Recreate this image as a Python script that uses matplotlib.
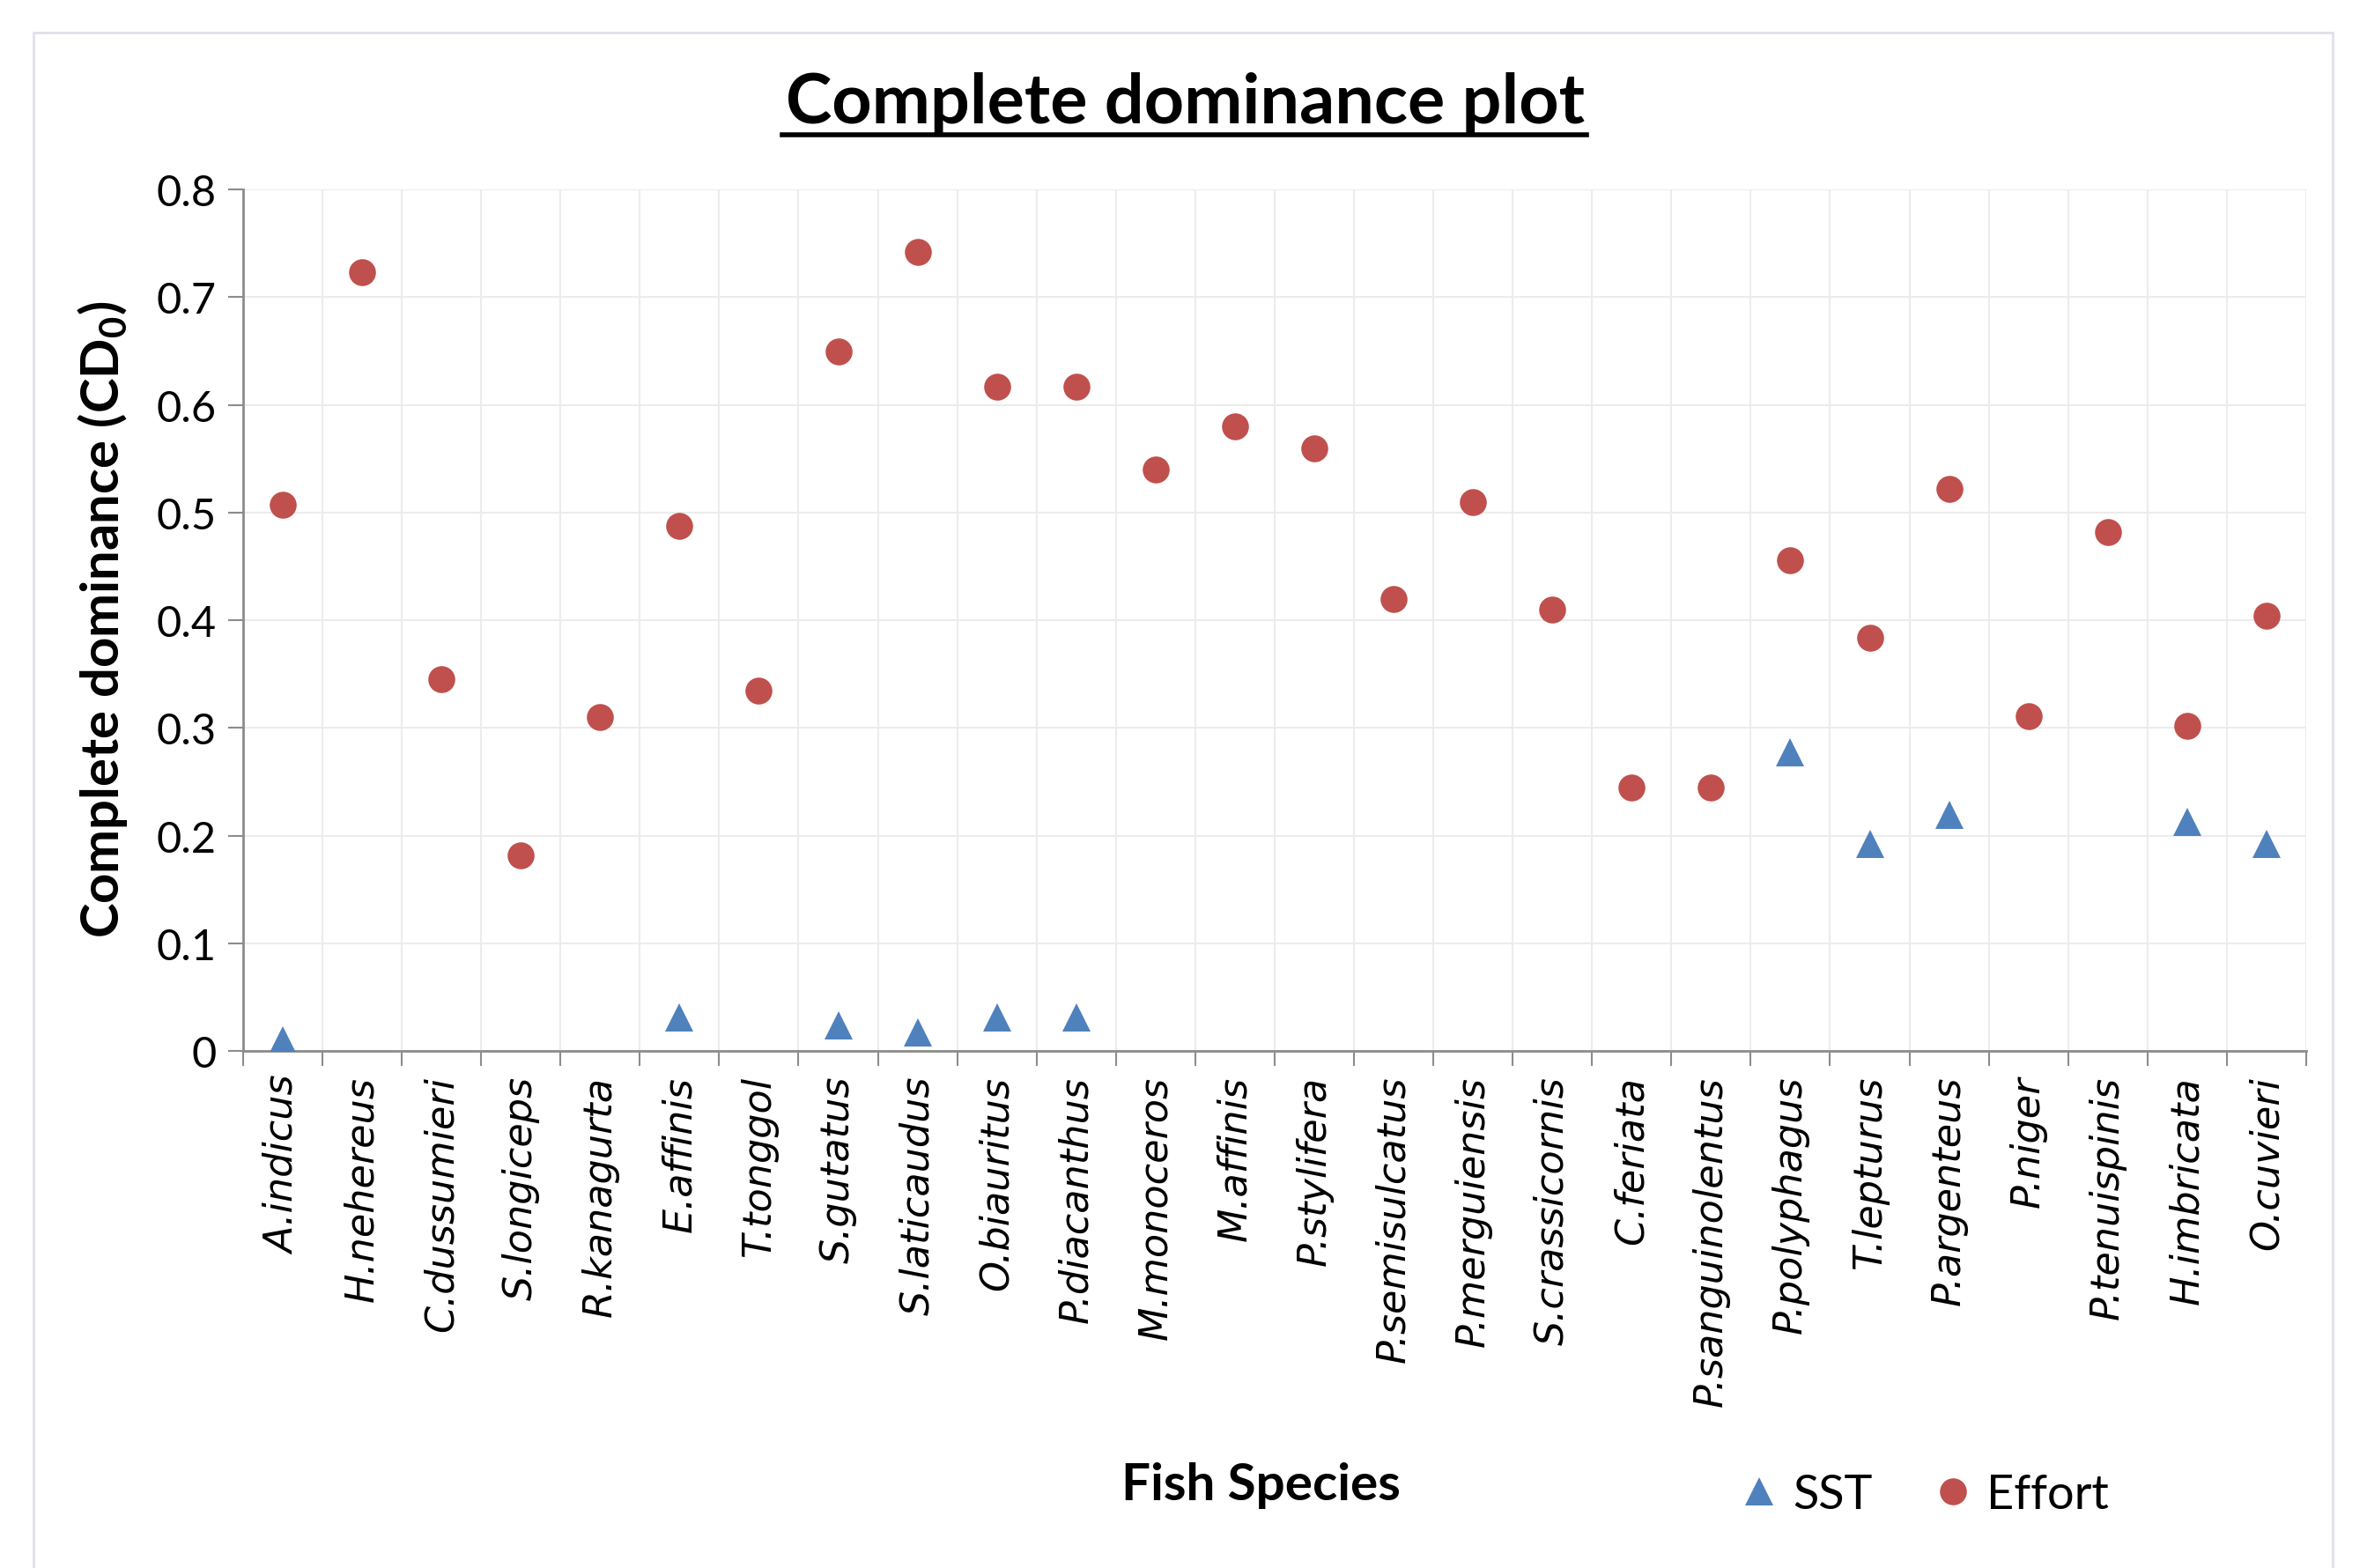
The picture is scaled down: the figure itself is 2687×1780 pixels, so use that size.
import numpy as np
import matplotlib
matplotlib.use("Agg")
import matplotlib.pyplot as plt
from matplotlib.patches import Rectangle
from matplotlib.lines import Line2D

# data
species = ["A.indicus", "H.nehereus", "C.dussumieri", "S.longiceps", "R.kanagurta",
           "E.affinis", "T.tonggol", "S.gutatus", "S.laticaudus", "O.biauritus",
           "P.diacanthus", "M.monoceros", "M.affinis", "P.stylifera", "P.semisulcatus",
           "P.merguiensis", "S.crassicornis", "C.feriata", "P.sanguinolentus",
           "P.polyphagus", "T.lepturus", "P.argenteus", "P.niger", "P.tenuispinis",
           "H.imbricata", "O.cuvieri"]
effort = [0.507, 0.723, 0.345, 0.182, 0.310, 0.488, 0.335, 0.650, 0.742, 0.617,
          0.617, 0.540, 0.580, 0.560, 0.420, 0.510, 0.410, 0.245, 0.245, 0.456,
          0.384, 0.522, 0.311, 0.482, 0.302, 0.404]
# SST only for some species (nan = no point)
sst = [0.010, np.nan, np.nan, np.nan, np.nan, 0.031, np.nan, 0.024, 0.017, 0.031,
       0.031, np.nan, np.nan, np.nan, np.nan, np.nan, np.nan, np.nan, np.nan, 0.277,
       0.192, 0.219, np.nan, np.nan, 0.213, 0.192]
yticks = [0, 0.1, 0.2, 0.3, 0.4, 0.5, 0.6, 0.7, 0.8]
ytick_labels = ["0", "0.1", "0.2", "0.3", "0.4", "0.5", "0.6", "0.7", "0.8"]

red = "#C0504D"
blue = "#4F81BD"
font = "Lato"

fig = plt.figure(figsize=(26.87, 17.81), dpi=100)
fig.patches.append(Rectangle((38 / 2687, -0.01), (2648 - 38) / 2687, 1 - 38 / 1781 + 0.01,
                             transform=fig.transFigure, fill=False,
                             edgecolor="#e2dfea", linewidth=2))

ax = fig.add_axes([0.1027, 0.3296, 0.8716, 0.549])
x = np.arange(len(species))

ax.plot(x, sst, linestyle="none", marker="^", markersize=23, color=blue,
        markeredgewidth=0, zorder=3)
ax.plot(x, effort, linestyle="none", marker="o", markersize=22, color=red,
        markeredgewidth=0, zorder=3)

ax.set_xlim(-0.5, len(species) - 0.5)
ax.set_ylim(0, 0.8)
ax.set_yticks(yticks)
ax.set_yticklabels(ytick_labels, fontsize=35, fontfamily=font)
ax.set_xticks(x)
ax.set_xticklabels(species, rotation=90, fontsize=32, fontstyle="italic",
                   fontfamily="DejaVu Sans")
ax.set_xticks(np.arange(-0.5, len(species)), minor=True)
ax.tick_params(axis="x", which="major", length=0, pad=20)
ax.tick_params(axis="x", which="minor", length=12, width=1.5, color="#8c8c8c")
ax.tick_params(axis="y", length=12, width=1.5, color="#8c8c8c", pad=10)

ax.grid(axis="y", color="#ececec", linewidth=1.5)
ax.grid(axis="x", which="minor", color="#ececec", linewidth=1.5)
ax.set_axisbelow(True)
for s in ["top", "right"]:
    ax.spines[s].set_visible(False)
for s in ["left", "bottom"]:
    ax.spines[s].set_color("#8c8c8c")
    ax.spines[s].set_linewidth(2)

fig.text(0.5006, 0.934, "Complete dominance plot", ha="center", va="center",
         fontsize=57, fontweight="bold", fontfamily=font)
fig.add_artist(Line2D([888 / 2687, 1801 / 2687], [1 - 154 / 1781, 1 - 154 / 1781],
                      color="black", linewidth=4))

fig.text(0.0435, 0.605, "Complete dominance (CD$_\\mathregular{0}$)", rotation=90,
         ha="center", va="center", fontsize=43, fontweight="bold", fontfamily=font)
fig.text(0.5326, 0.053, "Fish Species", ha="center", va="center",
         fontsize=42, fontweight="bold", fontfamily=font)

handles = [Line2D([], [], linestyle="none", marker="^", markersize=23, color=blue,
                  markeredgewidth=0),
           Line2D([], [], linestyle="none", marker="o", markersize=22, color=red,
                  markeredgewidth=0)]
fig.legend(handles, ["SST", "Effort"], loc="center", bbox_to_anchor=(0.812, 0.047),
           ncol=2, frameon=False, prop={"family": font, "size": 39},
           handletextpad=0.2, columnspacing=1.2, handlelength=1.0)

fig.savefig("out.png", dpi=100, facecolor="white")
